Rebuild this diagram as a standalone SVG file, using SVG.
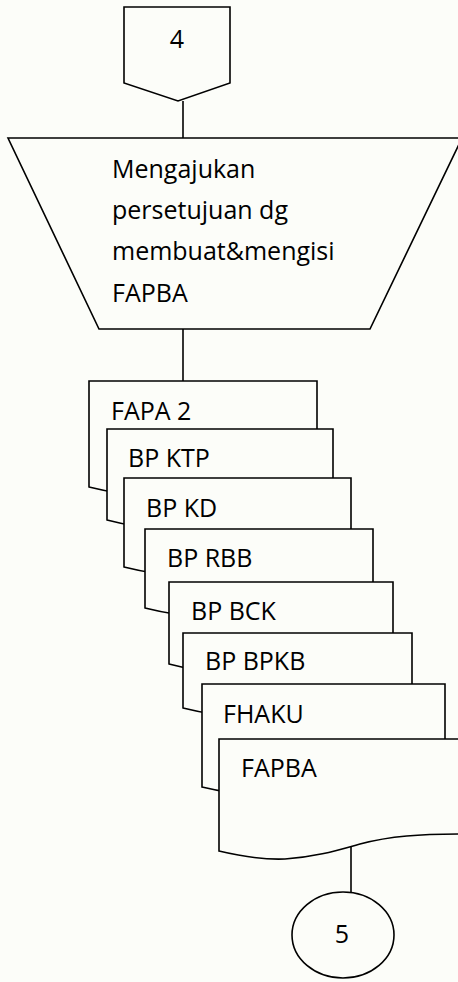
<svg xmlns="http://www.w3.org/2000/svg" width="458" height="982" viewBox="0 0 458 982">
  <style>
    .shape { fill: #fcfdf9; stroke: #000; stroke-width: 1.6; stroke-linejoin: miter; }
    .link { fill: none; stroke: #000; stroke-width: 1.6; }
    .label { font-family: "Open Sans", "Liberation Sans", sans-serif; font-size: 25px; fill: #000; }
  </style>
  <rect x="0" y="0" width="458" height="982" fill="#fcfdf9"/>

  <!-- connectors -->
  <g id="connectors">
    <line class="link" x1="183" y1="101" x2="183" y2="138"/>
    <line class="link" x1="183" y1="329" x2="183" y2="381"/>
    <line class="link" x1="351" y1="846" x2="351" y2="892"/>
  </g>

  <!-- off-page connector 4 -->
  <g id="offpage-4">
    <path class="shape" d="M124,7 H230 V83 L178,101 L124,83 Z"/>
    <text class="label" x="177" y="48" text-anchor="middle">4</text>
  </g>

  <!-- manual operation -->
  <g id="manual-fapba">
    <path class="shape" d="M8,138 H462 L370,329 H99 Z"/>
    <text class="label" x="112" y="178">Mengajukan</text>
    <text class="label" x="112" y="219">persetujuan dg</text>
    <text class="label" x="112" y="260">membuat&amp;mengisi</text>
    <text class="label" x="112" y="302">FAPBA</text>
  </g>

  <!-- stacked documents -->
  <g id="doc-fapa2">
    <path class="shape" d="M89,381 H317 V470 C276,470 249,472 220,480 C196,487 178,493 151,495 C129,496 109,492 89,487 Z"/>
    <text class="label" x="111" y="420">FAPA 2</text>
  </g>
  <g id="doc-bp-ktp">
    <path class="shape" d="M107,429 H333 V503 C292,503 265,505 237,513 C213,520 195,526 168,528 C147,529 126,525 107,520 Z"/>
    <text class="label" x="128" y="467">BP KTP</text>
  </g>
  <g id="doc-bp-kd">
    <path class="shape" d="M124,478 H351 V550 C310,550 283,552 255,560 C231,567 213,573 185,575 C164,576 144,572 124,567 Z"/>
    <text class="label" x="146" y="517">BP KD</text>
  </g>
  <g id="doc-bp-rbb">
    <path class="shape" d="M145,529 H373 V591 C332,591 305,593 276,601 C252,608 234,614 207,616 C185,617 165,613 145,608 Z"/>
    <text class="label" x="167" y="567">BP RBB</text>
  </g>
  <g id="doc-bp-bck">
    <path class="shape" d="M169,582 H393 V647 C353,647 326,649 298,657 C274,664 256,670 229,672 C208,673 188,669 169,664 Z"/>
    <text class="label" x="191" y="620">BP BCK</text>
  </g>
  <g id="doc-bp-bpkb">
    <path class="shape" d="M183,633 H412 V691 C371,691 343,693 315,701 C291,708 272,714 245,716 C223,717 203,713 183,708 Z"/>
    <text class="label" x="205" y="670">BP BPKB</text>
  </g>
  <g id="doc-fhaku">
    <path class="shape" d="M202,684 H445 V770 C401,770 372,772 342,780 C316,787 297,793 268,795 C245,796 223,792 202,787 Z"/>
    <text class="label" x="223" y="723">FHAKU</text>
  </g>
  <g id="doc-fapba">
    <path class="shape" d="M219,739 H464 V834 C420,834 390,836 360,844 C335,851 315,857 285,859 C262,860 240,856 219,851 Z"/>
    <text class="label" x="241" y="777">FAPBA</text>
  </g>

  <!-- on-page connector 5 -->
  <g id="onpage-5">
    <ellipse class="shape" cx="343" cy="935" rx="51" ry="43"/>
    <text class="label" x="342" y="943" text-anchor="middle">5</text>
  </g>
</svg>
